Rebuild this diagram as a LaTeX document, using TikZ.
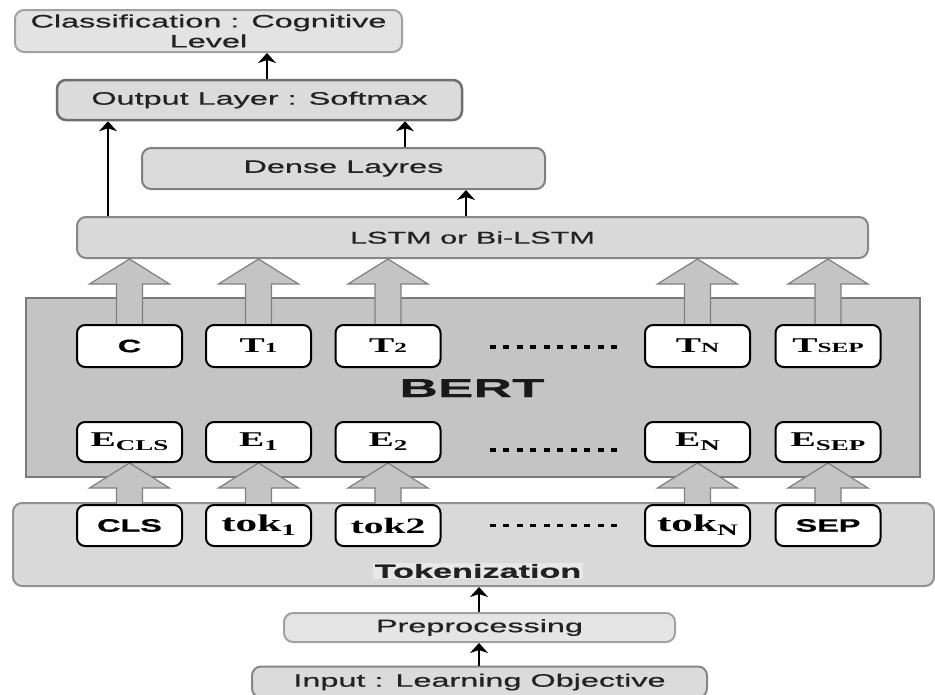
\documentclass[tikz,border=0pt]{standalone}
\usepackage{fontspec}
\setmainfont[FakeStretch=1.8]{Liberation Serif}
\setsansfont[FakeStretch=1.8,FakeBold=0.6]{Liberation Sans}
\newfontfamily\bertfont[FakeStretch=2.05,FakeBold=0.4]{Liberation Sans}
\usetikzlibrary{arrows.meta,calc}
\pgfdeclarelayer{bg}
\pgfdeclarelayer{mid}
\pgfsetlayers{bg,mid,main}
\definecolor{arrgray}{HTML}{C4C4C4}
\definecolor{arredge}{HTML}{7F7F7F}
\definecolor{txt}{HTML}{222222}
\tikzset{
  layerbox/.style={rounded corners=9pt, line width=2pt, inner sep=0pt, align=center,
    font=\sffamily\fontsize{18}{20}\selectfont, text=txt},
  tokbox/.style={draw=black, fill=white, line width=2pt, rounded corners=8pt,
    minimum width=105pt, inner sep=0pt},
  conn/.style={draw=black, line width=1.8pt, -{Stealth[length=10pt,width=18pt,inset=3pt]}},
  bigarr/.style={fill=arrgray, draw=arredge, line width=1.2pt, line join=miter},
  dotline/.style={line width=3.5pt, dash pattern=on 6pt off 7.5pt, black},
  serifbig/.style={font=\rmfamily\bfseries\fontsize{21}{24}\selectfont},
  sansbig/.style={font=\sffamily\bfseries\fontsize{18}{20}\selectfont}
}
\newcommand\hollowup[2]{%
  \filldraw[bigarr] ($(#1.north)+(-13,0)$) -- ($(#1.north|-#2.south)+(-13,25)$)
   -- ($(#1.north|-#2.south)+(-40,25)$) -- (#1.north|-#2.south)
   -- ($(#1.north|-#2.south)+(40,25)$) -- ($(#1.north|-#2.south)+(13,25)$)
   -- ($(#1.north)+(13,0)$);}
\newcommand\Esub[2]{E\raisebox{-4pt}{\fontsize{15}{15}\selectfont #2}}
\newcommand\Tsub[1]{T{\fontsize{14}{14}\selectfont #1}}
\begin{document}
\begin{tikzpicture}[x=1pt,y=-1pt]
\useasboundingbox (0,0) rectangle (935,694);
\begin{pgfonlayer}{bg}
\node[layerbox, fill=black!11, draw=black!37, minimum width=387pt, minimum height=42pt]
  (cls) at (208.5,31) {Classification : Cognitive\\Level};
\node[layerbox, fill=black!14, draw=black!57, line width=2.5pt, minimum width=405pt, minimum height=40pt]
  (out) at (259.5,100) {Output Layer : Softmax};
\node[layerbox, fill=black!14, draw=black!50, minimum width=403pt, minimum height=41pt]
  (dense) at (343.5,168.5) {Dense Layres};
\node[layerbox, fill=black!15, draw=black!47, minimum width=791pt, minimum height=41pt,
  font=\sffamily\fontsize{17}{20}\selectfont]
  (lstm) at (472.5,237.5) {LSTM or Bi-LSTM};
\node[draw=black!52, fill=black!23, line width=1.5pt, minimum width=894pt, minimum height=179pt, inner sep=0pt]
  (bert) at (473,387.5) {};
\node[layerbox, fill=black!15, draw=black!43, minimum width=921pt, minimum height=83pt]
  (tokz) at (473.5,544.5) {};
\node[layerbox, fill=black!10, draw=black!37, minimum width=391pt, minimum height=29pt]
  (prep) at (479.5,627.5) {Preprocessing};
\node[layerbox, fill=black!14, draw=black!47, minimum width=455pt, minimum height=31pt]
  (inp) at (479.5,682) {Input : Learning Objective};
\end{pgfonlayer}
% BERT label
\node[anchor=base, font=\bertfont\bfseries\fontsize{26}{28}\selectfont, text=black!90]
  (bertlbl) at (472,397) {BERT};
\node[fill=black!9, inner sep=1.5pt, font=\sffamily\bfseries\fontsize{19}{21}\selectfont, text=txt]
  (toklbl) at (478,571) {Tokenization};
% top row
\node[tokbox, minimum height=42pt, sansbig] (c) at (129.5,346) {C};
\node[tokbox, minimum height=42pt, serifbig] (t1) at (258.5,346) {\Tsub{1}};
\node[tokbox, minimum height=42pt, serifbig] (t2) at (388,346) {\Tsub{2}};
\node[tokbox, minimum height=42pt, serifbig] (tn) at (697.5,346) {\Tsub{N}};
\node[tokbox, minimum height=42pt, serifbig] (tsep) at (828,346) {\Tsub{SEP}};
% embedding row
\node[tokbox, minimum height=40pt, serifbig] (ecls) at (129.5,442) {\Esub{E}{CLS}};
\node[tokbox, minimum height=40pt, serifbig] (e1) at (258.5,442) {\Esub{E}{1}};
\node[tokbox, minimum height=40pt, serifbig] (e2) at (388,442) {\Esub{E}{2}};
\node[tokbox, minimum height=40pt, serifbig] (en) at (697.5,442) {\Esub{E}{N}};
\node[tokbox, minimum height=40pt, serifbig] (esep) at (828,442) {\Esub{E}{SEP}};
% token row
\node[tokbox, minimum height=41pt, sansbig] (tcls) at (129.5,525.5) {CLS};
\node[tokbox, minimum height=41pt, font=\rmfamily\bfseries\fontsize{24}{26}\selectfont]
  (tok1) at (258.5,525.5) {tok\raisebox{-4pt}{\fontsize{16}{16}\selectfont 1}};
\node[tokbox, minimum height=41pt, font=\rmfamily\bfseries\fontsize{22}{26}\selectfont]
  (tok2) at (388,525.5) {tok2};
\node[tokbox, minimum height=41pt, font=\rmfamily\bfseries\fontsize{24}{26}\selectfont]
  (tokn) at (697.5,525.5) {tok\raisebox{-4pt}{\fontsize{16}{16}\selectfont N}};
\node[tokbox, minimum height=41pt, sansbig] (tsepin) at (828,525.5) {SEP};
% dotted separators
\draw[dotline] ($(t2.east)+(48,1)$) -- ($(tn.west)+(-22,1)$);
\draw[dotline] ($(e2.east)+(48,8)$) -- ($(en.west)+(-22,8)$);
\draw[dotline] ($(tok2.east)+(48,0)$) -- ($(tokn.west)+(-22,0)$);
% hollow arrows
\begin{pgfonlayer}{mid}
\hollowup{c}{lstm}
\hollowup{t1}{lstm}
\hollowup{t2}{lstm}
\hollowup{tn}{lstm}
\hollowup{tsep}{lstm}
\hollowup{tcls}{ecls}
\hollowup{tok1}{e1}
\hollowup{tok2}{e2}
\hollowup{tokn}{en}
\hollowup{tsepin}{esep}
\end{pgfonlayer}
% thin connectors
\coordinate (xa) at (267,0);
\coordinate (xb) at (108,0);
\coordinate (xc) at (405,0);
\coordinate (xd) at (466,0);
\coordinate (xe) at (479,0);
\draw[conn] (out.north -| xa) -- (cls.south -| xa);
\draw[conn] (lstm.north -| xb) -- (out.south -| xb);
\draw[conn] (dense.north -| xc) -- (out.south -| xc);
\draw[conn] (lstm.north -| xd) -- (dense.south -| xd);
\draw[conn] (prep.north -| xe) -- (tokz.south -| xe);
\draw[conn] (inp.north -| xe) -- (prep.south -| xe);
\end{tikzpicture}
\end{document}
